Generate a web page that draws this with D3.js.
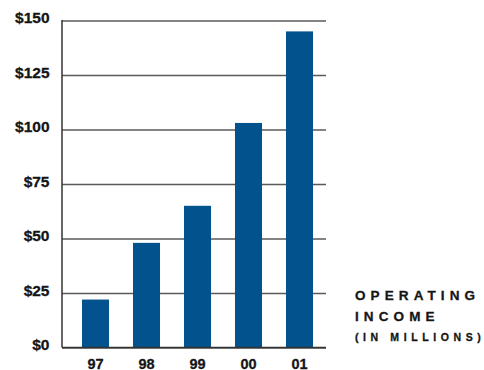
<!DOCTYPE html>
<html>
<head>
<meta charset="utf-8">
<script src="https://cdn.jsdelivr.net/npm/d3@7/dist/d3.min.js"></script>
<style>
  html, body { margin: 0; padding: 0; background: #fff; }
  svg text { font-family: "Liberation Sans", Arial, Helvetica, sans-serif; font-weight: bold; fill: #151515; stroke: #151515; stroke-width: 0.3px; }
</style>
</head>
<body>
<svg id="chart" width="484" height="370"></svg>
<script>
// Operating income by year, in millions of dollars
const years = ["97", "98", "99", "00", "01"];
const income = [22, 48, 65, 103, 145];
const yTicks = [0, 25, 50, 75, 100, 125, 150];
const titleLines = ["OPERATING", "INCOME"];
const subtitle = "(IN MILLIONS)";

const svg = d3.select("#chart");
const plotLeft = 62, plotRight = 326, plotTop = 20.5, plotBottom = 347.5;

const x = d3.scaleBand().domain(years).range([61.6, 333.4]).paddingInner(0.47).paddingOuter(0.4);
const y = d3.scaleLinear().domain([0, 150]).range([plotBottom, plotTop]);

// horizontal grid lines, drawn under the bars
const gridAxis = d3.axisLeft(y).tickValues(yTicks).tickSize(-(plotRight - plotLeft)).tickFormat("");
const grid = svg.append("g").attr("transform", `translate(${plotLeft},0)`).call(gridAxis);
grid.select(".domain").remove();
grid.selectAll(".tick line").attr("stroke", "#5a5a5a").attr("stroke-width", 1.3);

// bars
svg.append("g").selectAll("rect").data(income).join("rect")
  .attr("x", (d, i) => x(years[i]))
  .attr("width", x.bandwidth())
  .attr("y", d => y(d))
  .attr("height", d => y(0) - y(d))
  .attr("fill", "#02528e");

// value axis labels
const yAxis = d3.axisLeft(y).tickValues(yTicks).tickSize(0).tickPadding(12.5).tickFormat(d => "$" + d);
const ya = svg.append("g").attr("transform", `translate(${plotLeft},0)`).call(yAxis);
ya.select(".domain").remove();
ya.selectAll("text").attr("font-size", 15.5).attr("dy", "0.16em")
  .style("font-family", "'Liberation Sans', Arial, sans-serif").style("font-weight", "bold").attr("fill", "#151515");

// left axis line and baseline
svg.append("line").attr("x1", plotLeft).attr("x2", plotLeft).attr("y1", plotTop - 0.5).attr("y2", plotBottom)
  .attr("stroke", "#333").attr("stroke-width", 1.5);
svg.append("line").attr("x1", plotLeft).attr("x2", plotRight).attr("y1", plotBottom).attr("y2", plotBottom)
  .attr("stroke", "#333").attr("stroke-width", 1.5);

// category axis labels
const xAxis = d3.axisBottom(x).tickSize(0).tickPadding(0);
const xa = svg.append("g").attr("transform", `translate(0,${plotBottom})`).call(xAxis);
xa.select(".domain").remove();
xa.selectAll("text").attr("font-size", 14.5).attr("dy", null).attr("y", 21)
  .style("font-family", "'Liberation Sans', Arial, sans-serif").style("font-weight", "bold").attr("fill", "#151515");

// side title; the final letter carries no trailing letter-spacing
function spaced(sel, str, ls) {
  sel.append("tspan").attr("letter-spacing", ls + "px").text(str.slice(0, -1));
  sel.append("tspan").attr("letter-spacing", "0px").text(str.slice(-1));
}
const t = svg.append("g");
titleLines.forEach((s, i) => {
  spaced(t.append("text").attr("x", 355).attr("y", 300 + i * 21).attr("font-size", 13.5), s, 5.1);
});
spaced(t.append("text").attr("x", 355).attr("y", 341).attr("font-size", 10.5), subtitle, 4.6);
</script>
</body>
</html>
